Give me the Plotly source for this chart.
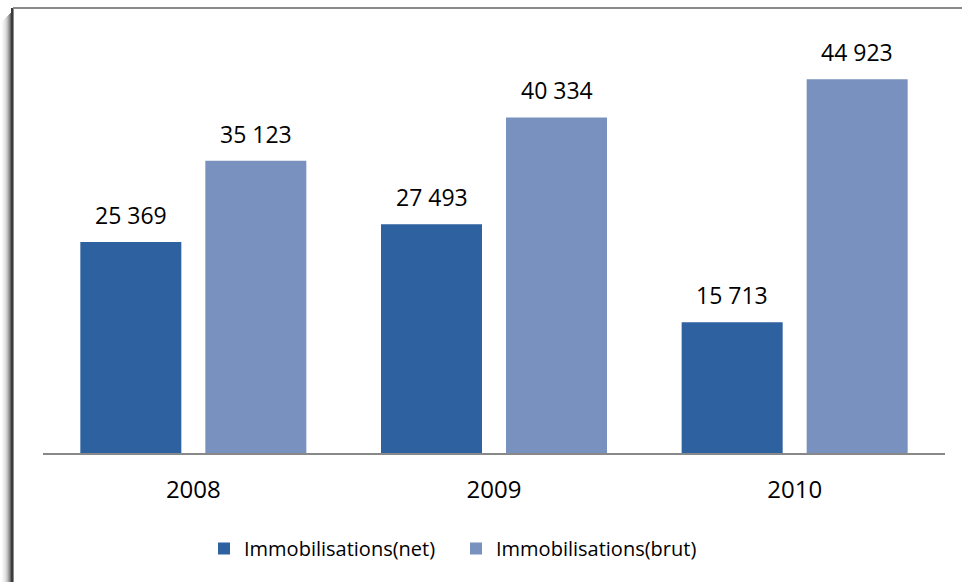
import plotly.graph_objects as go

years = ["2008", "2009", "2010"]
net_values = [25369, 27493, 15713]
brut_values = [35123, 40334, 44923]
series_names = ["Immobilisations(net)", "Immobilisations(brut)"]

W, H = 962, 582
L, R, T, B = 43, 17, 37, 129
PW, PH = W - L - R, H - T - B
xpos = list(range(len(years)))


def px(x):
    return (x - L) / PW


def py(y):
    return (H - B - y) / PH


def fmt(v):
    return f"{v:,}".replace(",", " ")


fig = go.Figure()
fig.add_trace(go.Bar(x=xpos, y=net_values, name=series_names[0],
                     marker=dict(color="#2E619F", line=dict(width=0))))
fig.add_trace(go.Bar(x=xpos, y=brut_values, name=series_names[1],
                     marker=dict(color="#7991BE", line=dict(width=0))))

annotations = []
for vals, shift in ((net_values, -62.5), (brut_values, 62.5)):
    for xi, v in zip(xpos, vals):
        annotations.append(dict(x=xi, y=v, xref="x", yref="y", text=fmt(v),
                                showarrow=False, xanchor="center", yanchor="bottom",
                                xshift=shift, yshift=9,
                                font=dict(family="Open Sans", size=23, color="#000000")))

shapes = []
shapes.append(dict(type="line", xref="paper", yref="paper",
                   x0=px(13), x1=px(962), y0=py(8), y1=py(8),
                   line=dict(color="#8a8a8a", width=2)))
for i, op in enumerate([0.04, 0.07, 0.1, 0.15, 0.22, 0.3, 0.42, 0.55, 0.7]):
    xx = 2 + i
    shapes.append(dict(type="line", xref="paper", yref="paper",
                       x0=px(xx + 0.5), x1=px(xx + 0.5), y0=py(12 + (9 - i)), y1=py(582),
                       line=dict(color=f"rgba(40,40,40,{op})", width=1)))
shapes.append(dict(type="rect", xref="paper", yref="paper",
                   x0=px(11), x1=px(14), y0=py(8), y1=py(582),
                   fillcolor="#3c3c3c", line=dict(width=0)))
shapes.append(dict(type="line", xref="paper", yref="paper",
                   x0=px(13.5), x1=px(13.5), y0=py(8), y1=py(582),
                   line=dict(color="#8a8a8a", width=1)))

fig.update_layout(
    width=W, height=H,
    margin=dict(l=L, r=R, t=T, b=B, pad=0),
    paper_bgcolor="white", plot_bgcolor="white",
    barmode="group", bargap=0.1685, bargroupgap=0.192,
    showlegend=True,
    legend=dict(orientation="h", x=px(204), xanchor="left", y=py(529), yanchor="top",
                font=dict(family="Open Sans", size=20, color="#000000"),
                bgcolor="rgba(0,0,0,0)", entrywidth=207, entrywidthmode="pixels",
                traceorder="normal"),
    xaxis=dict(type="linear", range=[-0.5, len(years) - 0.5], autorange=False,
               tickmode="array", tickvals=xpos, ticktext=years,
               showline=True, linecolor="#888888", linewidth=2, ticks="",
               tickfont=dict(family="Open Sans", size=24, color="#000000"),
               ticklabelstandoff=14, showgrid=False, zeroline=False, fixedrange=True),
    yaxis=dict(visible=False, range=[0, 50000], autorange=False,
               showgrid=False, zeroline=False, fixedrange=True),
    annotations=annotations,
    shapes=shapes,
)

fig.write_html("out.html", config={"displayModeBar": False},
               post_script="document.body.style.margin='0';document.body.style.overflow='hidden';")
